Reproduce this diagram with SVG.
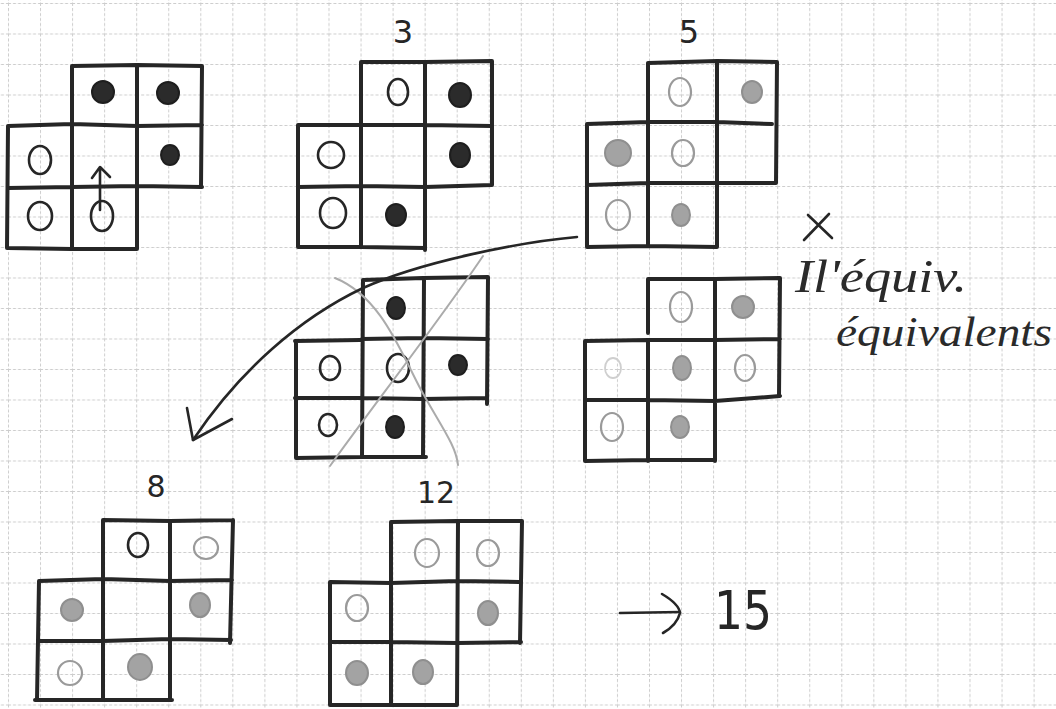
<svg xmlns="http://www.w3.org/2000/svg" width="1056" height="709" viewBox="0 0 1056 709">
<defs>
<pattern id="grid" patternUnits="userSpaceOnUse" x="8" y="3" width="32.05" height="30.5">
<path d="M0 0.5 H32.05" stroke="#cdcdcd" stroke-width="1" stroke-dasharray="3 2" fill="none"/>
<path d="M0.5 0 V30.5" stroke="#cdcdcd" stroke-width="1" stroke-dasharray="3 2" fill="none"/>
</pattern>
</defs>
<style>
.cell{fill:none;stroke:#262626;stroke-width:4;stroke-linecap:round;stroke-linejoin:round}
.o{fill:none;stroke:#262626;stroke-width:2.6}
.f{fill:#2b2b2b;stroke:#1e1e1e;stroke-width:2}
.og{fill:none;stroke:#9a9a9a;stroke-width:2.2}
.ol{fill:none;stroke:#cfcfcf;stroke-width:1.8}
.fg{fill:#a3a3a3;stroke:#8f8f8f;stroke-width:2}
.lbl{font-family:"DejaVu Sans",sans-serif;fill:#262626;text-anchor:middle}
.hw{font-family:"Liberation Serif",serif;font-style:italic;fill:#2a2a2a}
.ink{fill:none;stroke:#262626;stroke-width:2.6;stroke-linecap:round;stroke-linejoin:round}
.cross{fill:none;stroke:#ababab;stroke-width:2;stroke-linecap:round}
</style>
<rect width="1056" height="709" fill="#ffffff"/>
<rect width="1056" height="709" fill="url(#grid)"/>

<g id="shape-start">
<path class="cell" d="M72,66 L137,65 L202,66 M8,126 L72,124 L137,126 L202,125 M8,188 L72,187 L137,186 L202,187 M8,248 L72,249 L137,249 M8,126 L7,248 M72,66 L72,249 M137,65 L137,249 M202,66 L201,187"/>
<ellipse class="f" cx="103" cy="92" rx="11" ry="11"/>
<ellipse class="f" cx="168" cy="93" rx="11" ry="11"/>
<ellipse class="o" cx="40" cy="160" rx="11" ry="14"/>
<ellipse class="f" cx="170" cy="155" rx="9" ry="10"/>
<ellipse class="o" cx="40" cy="216" rx="12" ry="14"/>
<ellipse class="o" cx="102" cy="216" rx="11" ry="15"/>
<path class="ink" d="M100,210 L100,168 M92,178 L100,167 L110,177"/>
</g>

<g id="shape-3">
<text class="lbl" x="403" y="43" font-size="32">3</text>
<path class="cell" d="M361,62 L425,62 L492,61 M298,125 L361,125 L425,125 L492,126 M298,187 L361,186 L425,187 L492,185 M298,247 L361,247 L425,248 M298,125 L298,247 M361,62 L361,247 M425,62 L425,250 M492,61 L492,185"/>
<ellipse class="o" cx="398" cy="92" rx="10" ry="13"/>
<ellipse class="f" cx="460" cy="95" rx="11" ry="12"/>
<ellipse class="o" cx="331" cy="155" rx="13" ry="13"/>
<ellipse class="f" cx="460" cy="155" rx="10" ry="12"/>
<ellipse class="o" cx="333" cy="213" rx="13" ry="15"/>
<ellipse class="f" cx="396" cy="215" rx="10" ry="11"/>
</g>

<g id="shape-5">
<text class="lbl" x="689" y="43" font-size="32">5</text>
<path class="cell" d="M648,63 L717,61 L777,62 M587,124 L648,122 L717,122 L772,124 M587,185 L648,183 L717,183 L776,183 M587,247 L648,246 L717,247 M587,124 L587,247 M648,63 L648,246 M717,61 L717,247 M777,62 L776,183"/>
<ellipse class="og" cx="680" cy="92" rx="11" ry="14"/>
<ellipse class="fg" cx="752" cy="92" rx="10" ry="11"/>
<ellipse class="fg" cx="618" cy="153" rx="13" ry="13"/>
<ellipse class="og" cx="683" cy="153" rx="11" ry="13"/>
<ellipse class="og" cx="618" cy="215" rx="12" ry="15"/>
<ellipse class="fg" cx="681" cy="215" rx="9" ry="11"/>
</g>

<g id="shape-crossed">
<path class="cell" d="M363,280 L423,278 L488,277 M295,341 L360,340 M362,339 L423,338 L488,339 M295,398 L362,398 L423,399 L487,398 M296,458 L362,457 L426,457 M296,341 L296,458 M363,280 L362,457 M424,278 L423,457 M488,277 L487,404"/>
<ellipse class="f" cx="396" cy="308" rx="9" ry="11"/>
<ellipse class="o" cx="330" cy="368" rx="10" ry="12"/>
<ellipse class="o" cx="398" cy="368" rx="11" ry="14"/>
<ellipse class="f" cx="458" cy="365" rx="9" ry="10"/>
<ellipse class="o" cx="328" cy="425" rx="9" ry="11"/>
<ellipse class="f" cx="395" cy="427" rx="9" ry="11"/>
<path class="cross" d="M330,466 C370,410 440,320 483,256"/>
<path class="cross" d="M335,278 C380,296 400,350 420,388 C440,425 456,445 458,465"/>
</g>

<g id="shape-equiv">
<path class="cell" d="M648,279 L715,279 L780,278 M585,341 L648,340 L715,340 L780,339 M585,400 L648,400 L715,401 L780,396 M585,461 L648,460 L715,460 M585,341 L585,461 M648,279 L648,333 M648,340 L648,461 M715,279 L715,461 M780,278 L779,396"/>
<ellipse class="og" cx="681" cy="307" rx="11" ry="15"/>
<ellipse class="fg" cx="743" cy="307" rx="11" ry="11"/>
<ellipse class="ol" cx="613" cy="368" rx="8" ry="10"/>
<ellipse class="fg" cx="682" cy="368" rx="9" ry="12"/>
<ellipse class="og" cx="745" cy="368" rx="10" ry="13"/>
<ellipse class="og" cx="612" cy="427" rx="11" ry="14" stroke="#7a7a7a"/>
<ellipse class="fg" cx="680" cy="427" rx="9" ry="11"/>
</g>

<g id="note">
<text class="hw" x="795" y="292" font-size="46" textLength="172" lengthAdjust="spacingAndGlyphs">Il'équiv.</text>
<path class="ink" d="M808,215 L832,238 M829,214 L804,240"/>
<text class="hw" x="836" y="346" font-size="42" textLength="216" lengthAdjust="spacingAndGlyphs">équivalents</text>
</g>

<g id="shape-8">
<text class="lbl" x="156" y="497" font-size="30">8</text>
<path class="cell" d="M103,520 L170,521 L233,520 M39,581 L103,579 L170,581 L232,580 M38,641 L103,641 L170,639 L231,640 M35,700 L103,700 L172,700 M39,581 L37,700 M103,520 L103,700 M170,521 L170,700 M233,520 L230,643"/>
<ellipse class="o" cx="138" cy="545" rx="10" ry="12" stroke-width="2"/>
<ellipse class="og" cx="206" cy="548" rx="12" ry="11" stroke="#b5b5b5"/>
<ellipse class="fg" cx="72" cy="610" rx="11" ry="11"/>
<ellipse class="fg" cx="200" cy="605" rx="10" ry="12"/>
<ellipse class="og" cx="70" cy="673" rx="12" ry="12"/>
<ellipse class="fg" cx="140" cy="667" rx="12" ry="13"/>
</g>

<g id="shape-12">
<text class="lbl" x="436" y="503" font-size="30">12</text>
<path class="cell" d="M391,522 L457,521 L522,521 M330,582 L391,583 L457,581 L519,582 M330,642 L391,642 L457,643 L521,642 M330,705 L391,705 L457,705 M330,582 L330,705 M391,522 L391,705 M458,521 L457,705 M522,521 L520,643"/>
<ellipse class="og" cx="427" cy="553" rx="12" ry="14" stroke="#b0b0b0"/>
<ellipse class="og" cx="488" cy="553" rx="11" ry="13"/>
<ellipse class="og" cx="357" cy="608" rx="11" ry="13"/>
<ellipse class="fg" cx="488" cy="613" rx="10" ry="12" fill="#b8b8b8" stroke="#aaa"/>
<ellipse class="fg" cx="357" cy="673" rx="11" ry="12" fill="#7a7a7a" stroke="#555"/>
<ellipse class="fg" cx="423" cy="672" rx="10" ry="12" fill="#c0c0c0" stroke="#b0b0b0"/>
</g>

<g id="result">
<text class="lbl" x="743" y="629" font-size="54" textLength="58" lengthAdjust="spacingAndGlyphs">15</text>
</g>

<g id="connectors">
<path class="ink" d="M577,237 C520,242 420,262 363,288 C300,318 240,370 193,440"/>
<path class="ink" d="M187,408 L193,440 L232,419"/>
<path class="ink" d="M620,613 L680,612"/>
<path class="ink" d="M662,594 Q679,604 680,613 Q677,625 663,633"/>
</g>
</svg>
